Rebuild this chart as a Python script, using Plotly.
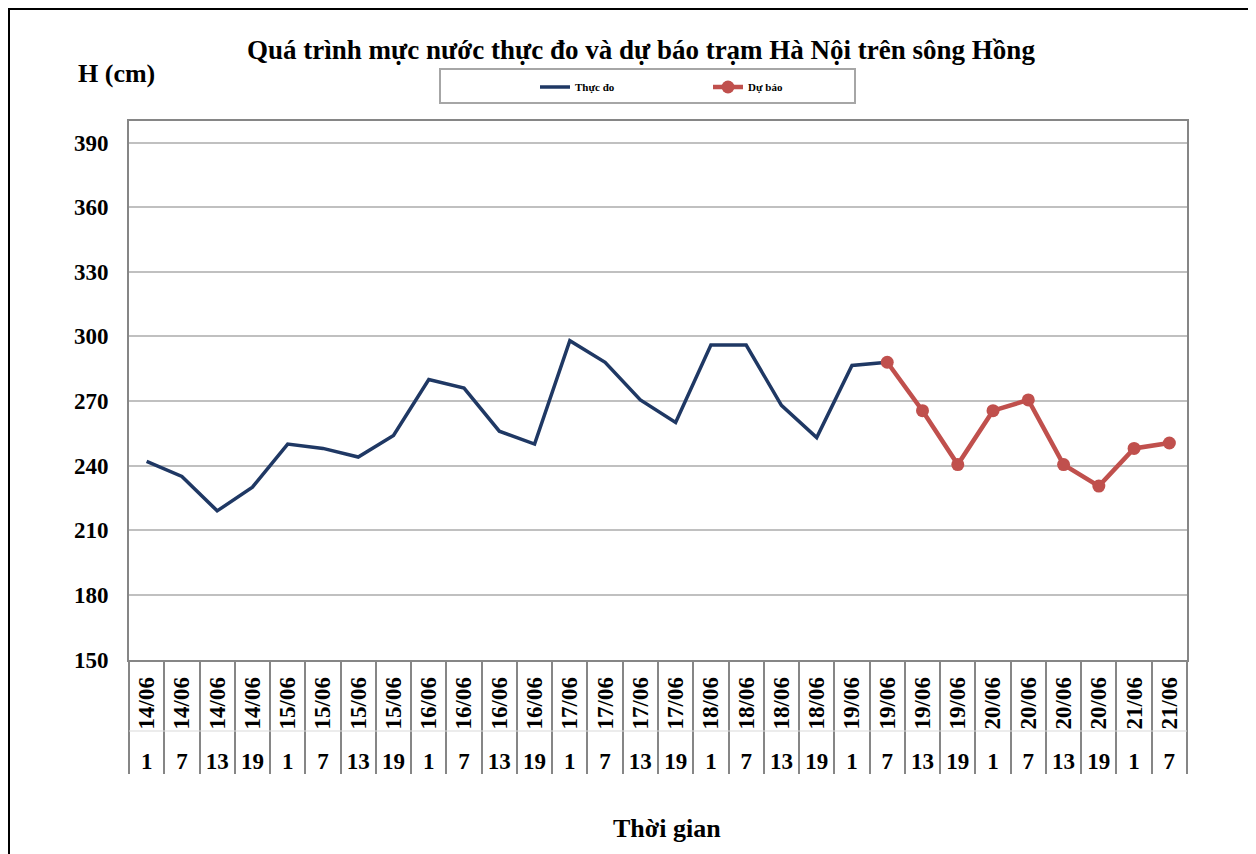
import plotly.graph_objects as go

# ---------------- data ----------------
dates = ["14/06", "14/06", "14/06", "14/06",
         "15/06", "15/06", "15/06", "15/06",
         "16/06", "16/06", "16/06", "16/06",
         "17/06", "17/06", "17/06", "17/06",
         "18/06", "18/06", "18/06", "18/06",
         "19/06", "19/06", "19/06", "19/06",
         "20/06", "20/06", "20/06", "20/06",
         "21/06", "21/06"]
hours = ["1", "7", "13", "19",
         "1", "7", "13", "19",
         "1", "7", "13", "19",
         "1", "7", "13", "19",
         "1", "7", "13", "19",
         "1", "7", "13", "19",
         "1", "7", "13", "19",
         "1", "7"]
observed = [242, 235, 219, 230, 250, 248, 244, 254, 280, 276, 256, 250,
            298, 288, 270.5, 260, 296, 296, 268, 253, 286.5, 288]
forecast = [288, 265.5, 240.5, 265.5, 270.5, 240.5, 230.5, 248, 250.5]

categories = [f"{d} {h}" for d, h in zip(dates, hours)]
obs_x = categories[:len(observed)]
fc_x = categories[len(categories) - len(forecast):]
n = len(categories)
idx = list(range(n))

# ---------------- geometry helpers (screen px -> figure coords) ----------------
OFF = 8                        # page body margin
W, H = 1256 - OFF, 854 - OFF   # figure size
L, R, T = 129 - OFF, 1187 - OFF, 121 - OFF   # plot-area edges in figure px
PB = 790 - OFF                 # bottom of paper area in figure px


def px_x(p):
    return (p - OFF - L) / (R - L)


def px_y(p):
    return (PB - (p - OFF)) / (PB - T)


FONT = "Liberation Serif"
GRID = "#C0C0C0"
FRAME = "#868686"

fig = go.Figure()
fig.add_trace(go.Scatter(
    x=obs_x, y=observed, mode="lines", name="Thực đo",
    line=dict(color="#1F3864", width=3.5),
))
fig.add_trace(go.Scatter(
    x=fc_x, y=forecast, mode="lines+markers", name="Dự báo",
    line=dict(color="#C0504D", width=4.5),
    marker=dict(color="#C0504D", size=13),
))
# empty helper traces so that the two label rows (date / hour) are drawn
for ax in ("x2", "x3"):
    fig.add_trace(go.Scatter(x=idx, y=[None] * n, xaxis=ax, yaxis="y",
                             mode="lines", showlegend=False, hoverinfo="skip"))

fig.update_layout(
    width=W, height=H,
    paper_bgcolor="white", plot_bgcolor="white",
    margin=dict(l=L, r=W - R, t=T, b=H - PB, pad=0),
    font=dict(family=FONT, color="black"),
    title=dict(
        text="Quá trình mực nước thực đo và dự báo trạm Hà Nội trên sông Hồng",
        x=(641 - OFF) / W, xanchor="center", xref="container",
        y=1 - (50 - OFF) / H, yanchor="middle", yref="container",
        font=dict(family=FONT, size=27, weight="bold", color="black"),
    ),
    showlegend=True,
    legend=dict(
        orientation="h", xref="container", yref="container",
        x=(535 - OFF) / W, xanchor="left", y=1 - (87 - OFF) / H, yanchor="middle",
        bgcolor="rgba(0,0,0,0)", borderwidth=0,
        font=dict(family=FONT, size=11, weight="bold", color="black"),
        entrywidth=128, entrywidthmode="pixels",
    ),
    yaxis=dict(
        domain=[px_y(659.5), 1], range=[150, 400],
        tickmode="array", tickvals=list(range(150, 391, 30)),
        showgrid=True, gridcolor=GRID, gridwidth=1.5,
        showline=True, linecolor=FRAME, linewidth=2, mirror=True,
        zeroline=False, ticks="", ticklabelstandoff=14,
        tickfont=dict(family=FONT, size=23, weight="bold", color="black"),
    ),
    xaxis=dict(
        type="category", categoryorder="array", categoryarray=categories,
        range=[-0.5, n - 0.5], anchor="y",
        showgrid=False, zeroline=False,
        showline=True, linecolor=FRAME, linewidth=2, mirror=True,
        ticks="outside", tickson="boundaries", ticklen=112,
        tickcolor=FRAME, tickwidth=2, showticklabels=False,
    ),
    xaxis2=dict(
        overlaying="x", anchor="y", side="bottom",
        range=[-0.5, n - 0.5], tickmode="array",
        tickvals=idx, ticktext=dates, tickangle=-90,
        showgrid=False, showline=False, zeroline=False, ticks="",
        ticklabelstandoff=12,
        tickfont=dict(family=FONT, size=23, weight="bold", color="black"),
    ),
    xaxis3=dict(
        overlaying="x", anchor="free", position=px_y(745), side="bottom",
        range=[-0.5, n - 0.5], tickmode="array",
        tickvals=idx, ticktext=hours,
        showgrid=False, showline=False, zeroline=False, ticks="",
        tickfont=dict(family=FONT, size=23, weight="bold", color="black"),
    ),
)

# outer chart border (kept inside the figure), legend frame, label-row separator
fig.add_shape(type="rect", xref="paper", yref="paper",
              x0=px_x(OFF + 1), x1=px_x(1250), y0=px_y(880), y1=px_y(OFF + 1),
              line=dict(color="black", width=2), fillcolor="rgba(0,0,0,0)")
fig.add_shape(type="rect", xref="paper", yref="paper",
              x0=px_x(440), x1=px_x(855), y0=px_y(103), y1=px_y(69),
              line=dict(color="#A6A6A6", width=2), fillcolor="rgba(0,0,0,0)")
fig.add_shape(type="line", xref="paper", yref="paper",
              x0=0, x1=1, y0=px_y(731), y1=px_y(731),
              line=dict(color="#D9D9D9", width=1))

fig.add_annotation(text="H (cm)", xref="paper", yref="paper",
                   x=px_x(116), y=px_y(73), showarrow=False,
                   xanchor="center", yanchor="middle",
                   font=dict(family=FONT, size=26, weight="bold", color="black"))
fig.add_annotation(text="Thời gian", xref="paper", yref="paper",
                   x=px_x(667), y=px_y(828), showarrow=False,
                   xanchor="center", yanchor="middle",
                   font=dict(family=FONT, size=26, weight="bold", color="black"))

fig.write_html("out.html")
